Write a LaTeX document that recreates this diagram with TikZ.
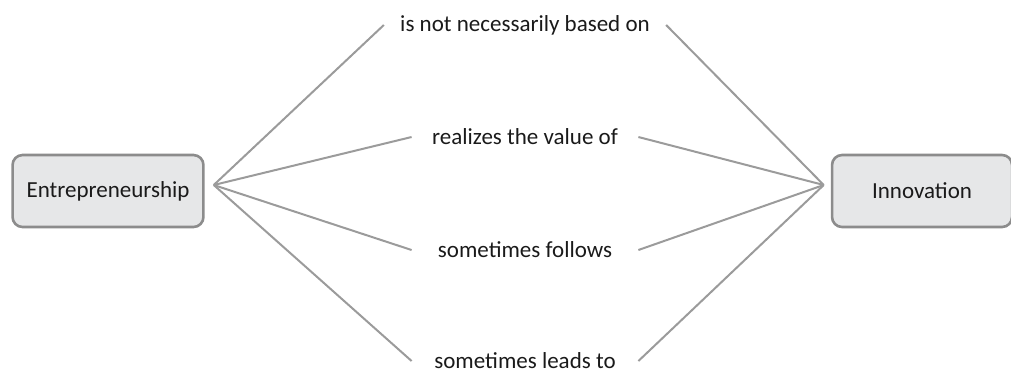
\documentclass[tikz,border=0pt]{standalone}
\usepackage{fontspec}
\setmainfont{Carlito}
\usetikzlibrary{positioning}
\definecolor{boxgray}{HTML}{E6E7E8}
\definecolor{edgegray}{HTML}{8C8C8C}
\definecolor{linkgray}{HTML}{9B9B9B}
\definecolor{textblack}{HTML}{1A1A1A}
\tikzset{
    concept/.style={rectangle, draw=edgegray, fill=boxgray, line width=1.3pt, rounded corners=5pt, minimum width=90pt, minimum height=36pt, inner xsep=7pt, align=center, text=textblack, font=\fontsize{11.5}{14}\selectfont},
    phrase/.style={rectangle, minimum width=113pt, inner xsep=8pt, inner ysep=2pt, text=textblack, font=\fontsize{11.5}{14}\selectfont},
    link/.style={line width=1pt, draw=linkgray}
}

\begin{document}
\begin{tikzpicture}[x=0.5pt, y=-0.5pt]
    \useasboundingbox (0,0) rectangle (1011,372);
    \node[concept] (ent) at (108,191) {Entrepreneurship};
    \node[concept, right=313pt of ent] (inno) {Innovation};
    \coordinate (ent-hub) at ([xshift=4.5pt, yshift=3pt]ent.east);
    \coordinate (inno-hub) at ([xshift=-3.5pt, yshift=3pt]inno.west);
    \foreach \n/\y/\t in {1/25/is not necessarily based on, 2/137/realizes the value of, 3/250/sometimes follows, 4/361/sometimes leads to} {
        \node[phrase] (lbl\n) at (525,\y) {\t};
        \draw[link] (ent-hub) -- (lbl\n.west);
        \draw[link] (lbl\n.east) -- (inno-hub);
    }
\end{tikzpicture}
\end{document}
